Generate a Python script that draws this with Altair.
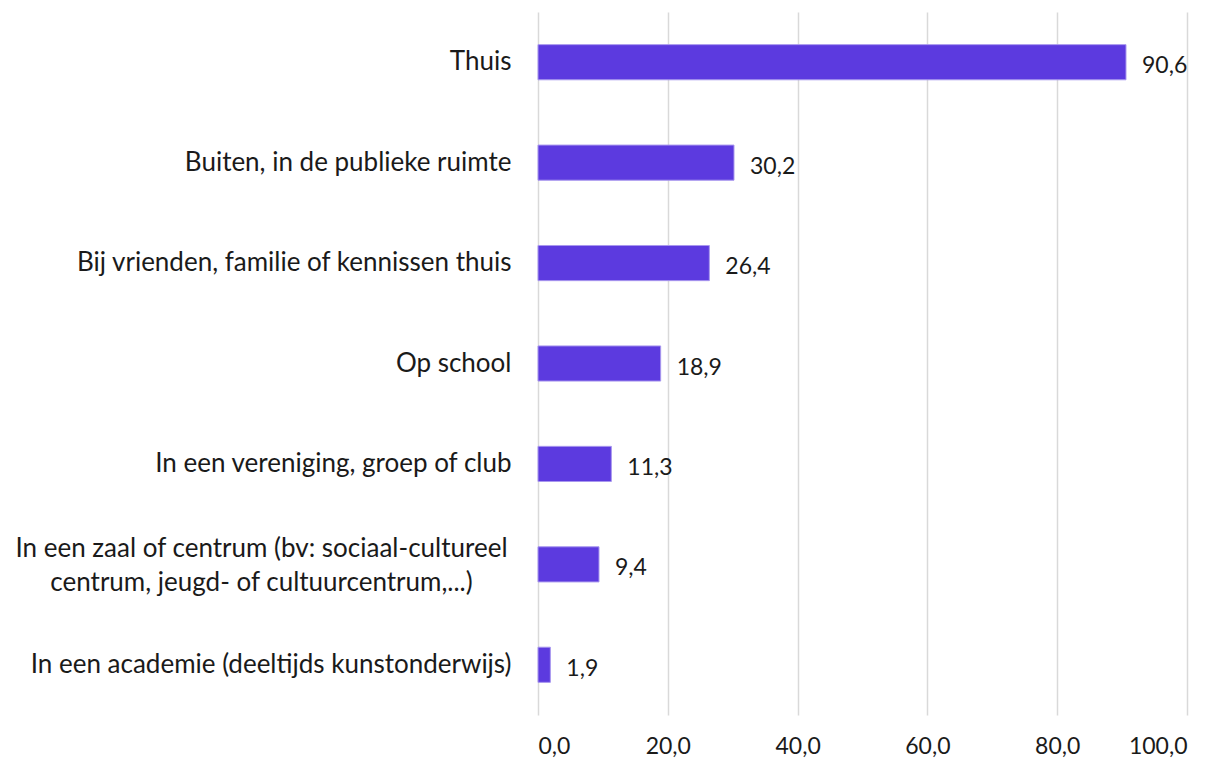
import altair as alt
import pandas as pd

categories = [
    "Thuis",
    "Buiten, in  de publieke ruimte",
    "Bij vrienden, familie of kennissen thuis",
    "Op school",
    "In een vereniging, groep of club",
    "In een zaal of centrum (bv: sociaal-cultureel|centrum, jeugd- of cultuurcentrum,...)",
    "In een academie (deeltijds kunstonderwijs)",
]
values = [90.6, 30.2, 26.4, 18.9, 11.3, 9.4, 1.9]
x_ticks = [0, 20, 40, 60, 80, 100]

df = pd.DataFrame({"cat": categories, "val": values})

FONT = "Lato"
BAR = "#5C3ADF"
TXT = "#1a1a1a"
WRAPPED = "indexof(datum.value, '|') >= 0"

y_enc = alt.Y(
    "cat:N",
    sort=categories,
    title=None,
    scale=alt.Scale(paddingInner=0.65, paddingOuter=0.325),
    axis=alt.Axis(
        labelExpr="split(datum.label, '|')",
        labelFont=FONT,
        labelFontSize=26,
        labelColor=TXT,
        labelPadding=alt.condition(WRAPPED, alt.value(277), alt.value(27)),
        labelAlign=alt.condition(WRAPPED, alt.value("center"), alt.value("right")),
        labelOffset=alt.condition(WRAPPED, alt.value(-15), alt.value(0)),
        labelLimit=600,
        labelLineHeight=34,
        ticks=False,
        domain=False,
        grid=False,
    ),
)

x_enc = alt.X(
    "val:Q",
    title=None,
    scale=alt.Scale(domain=[0, 100], nice=False),
    axis=alt.Axis(
        values=x_ticks,
        labelExpr="replace(format(datum.value, '.1f'), '.', ',')",
        labelFont=FONT,
        labelFontSize=23,
        labelColor=TXT,
        labelBaseline="middle",
        labelPadding=31,
        ticks=False,
        domain=False,
        grid=True,
        gridColor="#d9d9d9",
        gridWidth=1.5,
    ),
)

bars = alt.Chart(df).mark_bar(color=BAR, stroke="#a897ee", strokeWidth=1).encode(x=x_enc, y=y_enc)

labels = (
    alt.Chart(df)
    .transform_calculate(lab="replace(format(datum.val, '.1f'), '.', ',')")
    .mark_text(align="left", baseline="middle", dx=16, dy=4, font=FONT, fontSize=23, color=TXT)
    .encode(x="val:Q", y=alt.Y("cat:N", sort=categories), text="lab:N")
)

chart = (
    alt.layer(bars, labels)
    .properties(
        width=649,
        height=703,
        autosize=alt.AutoSizeParams(type="none"),
        padding={"left": 530, "top": 4, "right": 30, "bottom": 45},
    )
    .configure_view(stroke=None)
)

chart.save("out.html", embed_options={"renderer": "svg", "actions": False})
